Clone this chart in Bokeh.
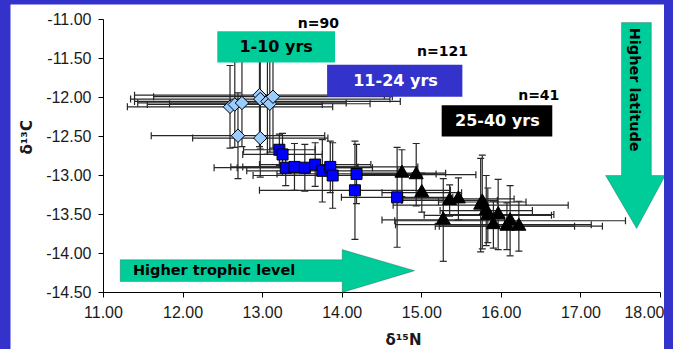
import numpy as np
from bokeh.plotting import figure
from bokeh.layouts import column
from bokeh.models import (ColumnDataSource, Whisker, TeeHead, Label, FixedTicker,
                          NumeralTickFormatter, PolyAnnotation)
from bokeh.embed import file_html
from bokeh.resources import INLINE

# ---- data: mean isotope values by age class, with error spans ----
# 1-10 yrs
young_n15 = [12.59, 12.65, 12.74, 12.96, 12.97, 13.06, 13.09, 13.13, 12.69, 12.97]
young_c13 = [-12.12, -12.09, -12.07, -11.97, -12.02, -12.05, -12.08, -11.99, -12.49, -12.52]
young_n15_err = [1.29, 1.10, 1.31, 1.57, 1.63, 1.67, 1.26, 1.50, 1.09, 0.85]
young_c13_err = [0.53, 0.55, 0.56, 0.66, 0.64, 0.68, 0.62, 0.66, 0.55, 0.50]

# 11-24 yrs
mid_n15 = [13.21, 13.25, 13.29, 13.40, 13.53, 13.66, 13.75, 13.85, 13.88, 14.18, 14.16, 14.69]
mid_c13 = [-12.67, -12.73, -12.90, -12.89, -12.90, -12.86, -12.94, -12.89, -13.00, -12.98, -13.19, -13.28]
mid_n15_err = [0.45, 0.50, 0.90, 0.80, 0.85, 0.70, 0.95, 1.10, 1.00, 1.00, 1.20, 0.70]
mid_c13_err = [0.20, 0.27, 0.23, 0.30, 0.30, 0.28, 0.40, 0.33, 0.42, 0.38, 0.63, 0.64]

# 25-40 yrs
old_n15 = [14.75, 14.93, 15.00, 15.35, 15.46, 15.27, 15.74, 15.76, 15.81, 15.83, 15.96, 15.90, 16.07, 16.11, 16.22]
old_c13 = [-12.97, -12.99, -13.22, -13.32, -13.30, -13.57, -13.38, -13.34, -13.45, -13.51, -13.50, -13.63, -13.65, -13.58, -13.65]
old_n15_err = [0.55, 0.75, 0.50, 0.60, 0.70, 0.77, 1.10, 0.55, 0.58, 0.80, 0.70, 1.23, 0.85, 1.45, 1.05]
old_c13_err = [0.30, 0.40, 0.25, 0.20, 0.27, 0.53, 0.60, 0.60, 0.45, 0.35, 0.45, 0.30, 0.30, 0.45, 0.32]

x_ticks = [11, 12, 13, 14, 15, 16, 17, 18]
y_ticks = [-14.5, -14.0, -13.5, -13.0, -12.5, -12.0, -11.5, -11.0]

FRAME_BLUE = "#3333CC"
TEAL = "#00CC99"
BAR_COLOR = "#262626"
BOLD_FONT = "DejaVu Sans"
AXIS_FONT = "Liberation Sans"

# the plotting area fills the whole white panel; the axes sit at fixed
# data positions inside it so titles and arrows can go anywhere
p = figure(width=654, height=345, x_range=(9.8312, 18.0503), y_range=(-15.2308, -10.8077),
           output_backend="svg", toolbar_location=None,
           min_border=0, background_fill_color="white", border_fill_color="white")
p.outline_line_color = None
p.grid.visible = False
p.margin = (4, 9, 0, 10)

p.xaxis.fixed_location = y_ticks[0]
p.yaxis.fixed_location = x_ticks[0]
for ax, ticks in ((p.xaxis, x_ticks), (p.yaxis, y_ticks)):
    ax.ticker = FixedTicker(ticks=ticks)
    ax.bounds = (ticks[0], ticks[-1])
    ax.formatter = NumeralTickFormatter(format="0.00")
    ax.axis_line_color = "black"
    ax.major_tick_line_color = "black"
    ax.major_tick_in = 0
    ax.major_tick_out = 5
    ax.minor_tick_line_color = None
    ax.major_label_text_font = AXIS_FONT
    ax.major_label_text_font_size = "16px"
    ax.major_label_text_color = "#1a1a1a"
p.xaxis.major_label_standoff = 9
p.yaxis.major_label_standoff = 7


def series(xs, ys, xe, ye):
    xs, ys, xe, ye = map(np.asarray, (xs, ys, xe, ye))
    return ColumnDataSource(dict(x=xs, y=ys, x_lo=xs - xe, x_hi=xs + xe,
                                 y_lo=ys - ye, y_hi=ys + ye))


groups = [
    (series(young_n15, young_c13, young_n15_err, young_c13_err), "square", 9.5, "#99CCFF", np.pi / 4),
    (series(mid_n15, mid_c13, mid_n15_err, mid_c13_err), "square", 11, "#0000FF", 0.0),
    (series(old_n15, old_c13, old_n15_err, old_c13_err), "triangle", 14, "black", 0.0),
]

# error bars first, markers on top
for src, *_ in groups:
    for dim, base, lo, hi in (("width", "y", "x_lo", "x_hi"), ("height", "x", "y_lo", "y_hi")):
        w = Whisker(source=src, base=base, lower=lo, upper=hi, dimension=dim,
                    line_color=BAR_COLOR, line_width=1.2, level="underlay",
                    upper_head=TeeHead(size=7, line_color=BAR_COLOR, line_width=1.2),
                    lower_head=TeeHead(size=7, line_color=BAR_COLOR, line_width=1.2))
        p.add_layout(w)

for src, marker, size, color, ang in groups:
    p.scatter("x", "y", source=src, marker=marker, size=size, angle=ang,
              fill_color=color, line_color="black", line_width=1)

# age-class label boxes
boxes = [
    ("1-10 yrs", 12.43, 13.91, -11.55, -11.15, TEAL, "black", 13.17, -11.35),
    ("11-24 yrs", 13.81, 15.51, -11.99, -11.58, FRAME_BLUE, "white", 14.67, -11.78),
    ("25-40 yrs", 15.25, 16.64, -12.50, -12.10, "black", "white", 15.95, -12.30),
]
for txt, l, r, b, t, fc, tc, tx, ty in boxes:
    p.quad(left=l, right=r, bottom=b, top=t, fill_color=fc, line_color=None)
    p.add_layout(Label(x=tx, y=ty, text=txt, text_align="center", text_baseline="middle",
                       text_font=BOLD_FONT, text_font_style="bold", text_font_size="16px",
                       text_color=tc))

for txt, tx, ty in (("n=90", 13.70, -11.04), ("n=121", 15.26, -11.40), ("n=41", 16.47, -11.97)):
    p.add_layout(Label(x=tx, y=ty, text=txt, text_align="center", text_baseline="middle",
                       text_font=BOLD_FONT, text_font_style="bold", text_font_size="14px",
                       text_color="black"))

# direction arrows
p.add_layout(PolyAnnotation(
    xs=[17.51, 17.885, 17.885, 18.06, 17.70, 17.31, 17.51],
    ys=[-11.04, -11.04, -13.0, -13.0, -13.68, -13.0, -13.0],
    fill_color=TEAL, fill_alpha=1.0, line_color="#333333", line_width=1, level="annotation"))
p.add_layout(PolyAnnotation(
    xs=[11.21, 14.0, 14.0, 14.91, 14.0, 14.0, 11.21],
    ys=[-14.08, -14.08, -13.95, -14.22, -14.5, -14.36, -14.36],
    fill_color=TEAL, fill_alpha=1.0, line_color="#333333", line_width=1, level="annotation"))
p.add_layout(Label(x=17.68, y=-11.90, text="Higher latitude", angle=-np.pi / 2,
                   text_align="center", text_baseline="middle",
                   text_font=BOLD_FONT, text_font_style="bold", text_font_size="14.5px",
                   text_color="black"))
p.add_layout(Label(x=12.39, y=-14.21, text="Higher trophic level",
                   text_align="center", text_baseline="middle",
                   text_font=BOLD_FONT, text_font_style="bold", text_font_size="14.5px",
                   text_color="black"))

# axis titles
p.add_layout(Label(x=10.039, y=-12.51, text="δ¹³C", angle=np.pi / 2,
                   text_align="center", text_baseline="middle",
                   text_font="DejaVu Sans", text_font_style="bold", text_font_size="15px",
                   text_color="#1a1a1a"))
p.add_layout(Label(x=14.77, y=-15.115, text="δ¹⁵N",
                   text_align="center", text_baseline="middle",
                   text_font="DejaVu Sans", text_font_style="bold", text_font_size="15px",
                   text_color="#1a1a1a"))

page = column(p, width=673, height=349, styles={"background-color": FRAME_BLUE})

open("out.html", "w").write(file_html(page, INLINE))
